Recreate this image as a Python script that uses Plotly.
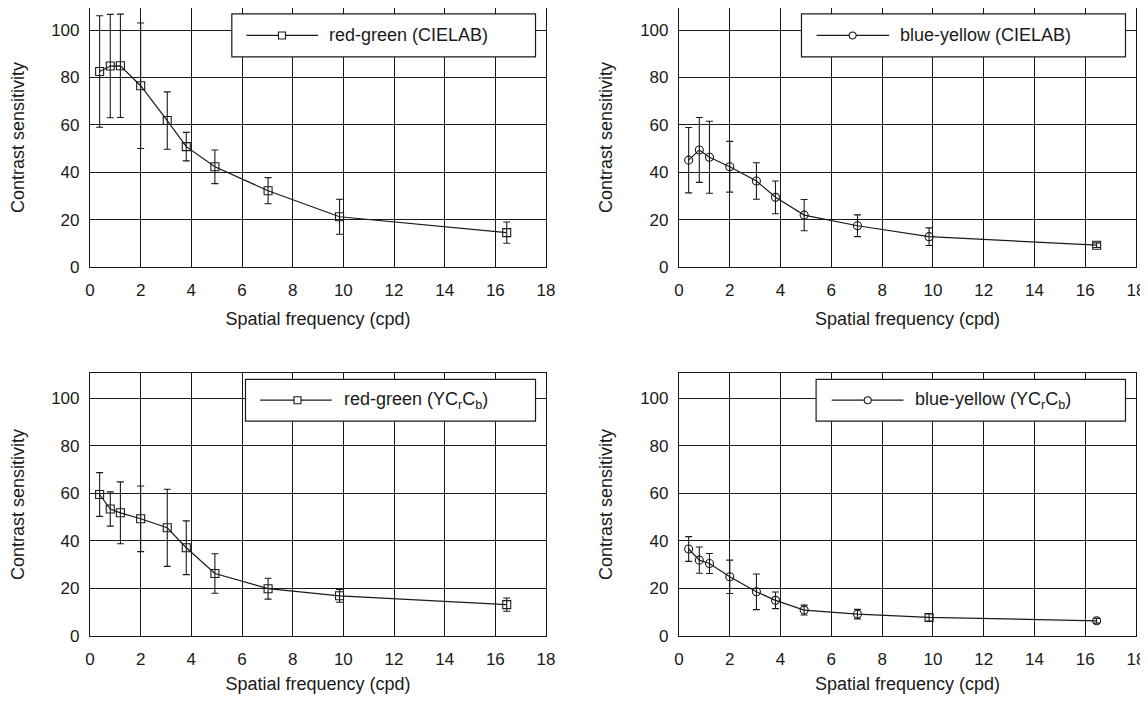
import plotly.graph_objects as go

# ---- data ----
freq = [0.38, 0.8, 1.2, 2.0, 3.05, 3.8, 4.93, 7.03, 9.85, 16.45]

rg_lab = [82.5, 84.8, 84.9, 76.5, 61.8, 50.8, 42.3, 32.2, 21.2, 14.5]
rg_lab_err = [23.5, 21.8, 21.8, 26.5, 12.1, 6.0, 7.1, 5.5, 7.4, 4.5]

by_lab = [45.1, 49.4, 46.3, 42.3, 36.3, 29.4, 21.9, 17.4, 12.8, 9.2]
by_lab_err = [13.8, 13.7, 15.2, 10.7, 7.7, 6.9, 6.6, 4.6, 3.7, 1.0]

rg_ycc = [59.5, 53.4, 51.8, 49.3, 45.5, 37.1, 26.3, 19.9, 16.9, 13.2]
rg_ycc_err = [9.2, 7.2, 13.0, 13.8, 16.2, 11.3, 8.3, 4.4, 2.7, 2.8]

by_ycc = [36.6, 31.9, 30.5, 24.9, 18.6, 15.0, 10.9, 9.2, 7.8, 6.4]
by_ycc_err = [5.2, 5.5, 4.2, 7.0, 7.5, 3.5, 2.1, 2.0, 1.5, 1.0]

labels = [
    "red-green (CIELAB)",
    "blue-yellow (CIELAB)",
    "red-green (YC<sub>r</sub>C<sub>b</sub>)",
    "blue-yellow (YC<sub>r</sub>C<sub>b</sub>)",
]
x_ticks = list(range(0, 19, 2))
y_ticks = list(range(0, 101, 20))
x_title = "Spatial frequency (cpd)"
y_title = "Contrast sensitivity"

# ---- styling ----
FONT = "Liberation Sans, Arial, sans-serif"
INK = "#1a1a1a"

# figure sized to fit inside the page's default 8px body margin
XD_L = [0.07193, 0.47193]
XD_R = [0.58860, 0.98947]
YD_T = [0.62245, 1.0]
YD_B = [0.08455, 0.46793]

panels = [
    ("", rg_lab, rg_lab_err, "square-open", labels[0], XD_L, YD_T, 109.3,
     dict(box=0.311, l0=0.343, l1=0.500, m=0.421, t=0.519, yb=0.811, yt=0.977, shape="rect")),
    ("2", by_lab, by_lab_err, "circle-open", labels[1], XD_R, YD_T, 109.3,
     dict(box=0.268, l0=0.301, l1=0.460, m=0.380, t=0.479, yb=0.811, yt=0.977, shape="circle")),
    ("3", rg_ycc, rg_ycc_err, "square-open", labels[2], XD_L, YD_B, 110.6,
     dict(box=0.341, l0=0.373, l1=0.530, m=0.455, t=0.552, yb=0.817, yt=0.976, shape="rect")),
    ("4", by_ycc, by_ycc_err, "circle-open", labels[3], XD_R, YD_B, 110.6,
     dict(box=0.300, l0=0.334, l1=0.491, m=0.413, t=0.511, yb=0.817, yt=0.976, shape="circle")),
]

fig = go.Figure()
shapes = []
annotations = []

for suf, yv, ev, sym, lab, xd, yd, ymax, lg in panels:
    xa = "x" + suf
    ya = "y" + suf
    symbols = [sym] * len(yv)
    if suf == "2":
        symbols[-1] = "square-open"
    if suf == "4":
        symbols[-2] = "square-open"
    fig.add_trace(go.Scatter(
        x=freq, y=yv, xaxis=xa, yaxis=ya, mode="lines+markers",
        line=dict(color=INK, width=1.2),
        marker=dict(symbol=symbols, size=8, color=INK, line=dict(width=1.1, color=INK)),
        error_y=dict(type="data", array=ev, visible=True, color=INK, thickness=1.1, width=3.5),
        showlegend=False, cliponaxis=False,
    ))
    axis_common = dict(
        showline=True, linecolor=INK, linewidth=1.2, mirror=True,
        showgrid=True, gridcolor=INK, gridwidth=1.1,
        zeroline=False, ticks="", automargin=False,
        tickfont=dict(family=FONT, size=17, color=INK),
        title_font=dict(family=FONT, size=18, color=INK),
    )
    fig.layout["xaxis" + suf] = dict(
        axis_common, domain=xd, anchor=ya, range=[0, 18],
        tickvals=x_ticks, ticklabelstandoff=8,
        title=dict(text=x_title, standoff=12),
    )
    fig.layout["yaxis" + suf] = dict(
        axis_common, domain=yd, anchor=xa, range=[0, ymax],
        tickvals=y_ticks, ticklabelstandoff=6,
        title=dict(text=y_title, standoff=22),
    )
    xr = xa + " domain"
    yr = ya + " domain"
    ymid = (lg["yb"] + lg["yt"]) / 2
    shapes.append(dict(type="rect", xref=xr, yref=yr, x0=lg["box"], x1=0.977, y0=lg["yb"], y1=lg["yt"],
                       line=dict(color=INK, width=1.2), fillcolor="white", layer="above"))
    shapes.append(dict(type="line", xref=xr, yref=yr, x0=lg["l0"], x1=lg["l1"], y0=ymid, y1=ymid,
                       line=dict(color=INK, width=1.2), layer="above"))
    shapes.append(dict(type=lg["shape"], xref=xr, yref=yr, xsizemode="pixel", ysizemode="pixel",
                       xanchor=lg["m"], yanchor=ymid, x0=-3.5, x1=3.5, y0=-3.5, y1=3.5,
                       line=dict(color=INK, width=1.1), fillcolor="white", layer="above"))
    annotations.append(dict(text=lab, xref=xr, yref=yr, x=lg["t"], y=ymid, xanchor="left",
                            yanchor="middle", showarrow=False,
                            font=dict(family=FONT, size=18, color=INK)))

fig.update_layout(
    width=1140, height=686,
    margin=dict(l=0, r=0, t=0, b=0),
    paper_bgcolor="white", plot_bgcolor="white",
    shapes=shapes, annotations=annotations,
    font=dict(family=FONT, color=INK),
)

fig.write_html("out.html")
